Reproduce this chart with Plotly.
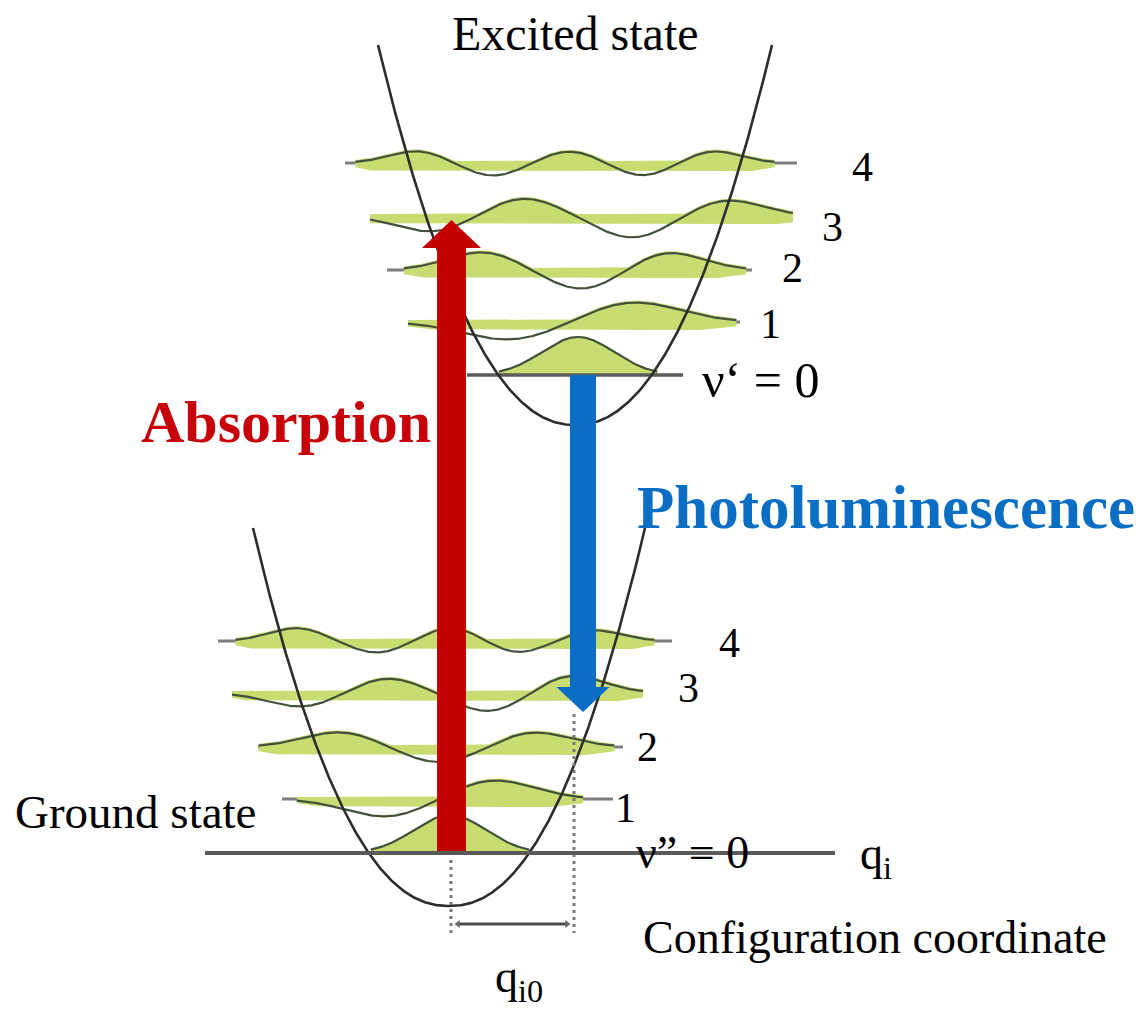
import numpy as np
import plotly.graph_objects as go

W, H = 1147, 1009

# ---------------- data (pixel space) ----------------
# potential curves: excited, ground
curve_vx = [575, 449]
curve_vy = [425, 906]
curve_halfw = [197, 196]
curve_height = [380, 378]
curve_exp = [2.15, 2.2]

# excited-state vibrational levels v' = 0..4
up_level_y = [375, 322, 270, 216, 163]
up_line_x0 = [467, 408, 387, 370, 345]
up_line_x1 = [683, 740, 752, 793, 797]
up_lobe_x = [[578], [510, 633], [483, 583, 667], [433, 523, 633, 727], [417, 493, 570, 643, 713]]
up_lobe_a = [[38], [-18, 20], [18, -20, 18], [-16, 18, -22, 16], [12, -13, 12, -13, 12]]
up_lobe_w = [36, 47, 36, 36, 28]
up_labels = ["ν‘ = 0", "1", "2", "3", "4"]

# ground-state vibrational levels v'' = 0..4
lo_level_y = [853, 799, 747, 693, 641]
lo_line_x0 = [205, 282, 258, 232, 218]
lo_line_x1 = [835, 613, 623, 643, 672]
lo_lobe_x = [[450], [387, 493], [340, 440, 533], [303, 387, 490, 570], [297, 377, 452, 517, 593]]
lo_lobe_a = [[38], [-18, 19], [15, -16, 15], [-14, 15, -19, 18], [13, -12, 14, -12, 11]]
lo_lobe_w = [36, 41, 37, 34, 28]
lo_labels = ["ν” = 0", "1", "2", "3", "4"]

band_thick = [0, 10, 10, 10, 10]

# transitions: x centre, start y, tip y
arrow_names = ["Absorption", "Photoluminescence"]
arrow_cx = [451.5, 583]
arrow_y_start = [853, 375]
arrow_y_tip = [220, 712]
arrow_shaft_w = [29, 26]
arrow_head_w = [59, 53]
arrow_head_len = [28, 25]
arrow_color = ["#c40000", "#0a6fc4"]

# displacement q_i0
disp_x = [451, 574]
disp_y_top = [860, 714]
disp_y_bottom = [933, 933]
disp_arrow_y = 924

GREEN = "#c9dc72"
WAVE = "#43503a"
LEVEL = "#7d7d7d"
CURVE = "#2c2c2c"

fig = go.Figure()


def wave(xs, cs, amps, sig):
    w = np.zeros_like(xs)
    env = np.zeros_like(xs)
    for c, a in zip(cs, amps):
        g = np.exp(-(xs - c) ** 2 / (2 * sig ** 2))
        w += a * g
        env = np.maximum(env, g)
    return w, env


def add_levels(ys, x0s, x1s, lxs, las, sigs):
    for n in range(len(ys)):
        if n == 0:
            continue
        fig.add_trace(go.Scatter(x=[x0s[n], x1s[n]], y=[ys[n], ys[n]], mode="lines",
                                 line=dict(color=LEVEL, width=3), hoverinfo="skip"))
    for n in range(len(ys)):
        sig = sigs[n]
        a = max(x0s[n], min(lxs[n]) - 2.2 * sig)
        b = min(x1s[n], max(lxs[n]) + 2.2 * sig)
        xs = np.linspace(a, b, 400)
        w, env = wave(xs, lxs[n], las[n], sig)
        t = band_thick[n] * np.clip(env / 0.3, 0, 1) ** 0.5
        top = ys[n] - np.maximum(w, 0) - np.where(t > 0, 2, 0)
        bot = ys[n] + t * 0.8
        px = np.concatenate([xs, xs[::-1]])
        py = np.concatenate([top, bot[::-1]])
        fig.add_trace(go.Scatter(x=px, y=py, mode="lines", fill="toself", fillcolor=GREEN,
                                 line=dict(width=0), hoverinfo="skip"))
        fig.add_trace(go.Scatter(x=xs, y=ys[n] - w, mode="lines",
                                 line=dict(color=WAVE, width=2.2), hoverinfo="skip"))
    fig.add_trace(go.Scatter(x=[x0s[0], x1s[0]], y=[ys[0], ys[0]], mode="lines",
                             line=dict(color="#5a5a5a", width=3.5), hoverinfo="skip"))


add_levels(up_level_y, up_line_x0, up_line_x1, up_lobe_x, up_lobe_a, up_lobe_w)
add_levels(lo_level_y, lo_line_x0, lo_line_x1, lo_lobe_x, lo_lobe_a, lo_lobe_w)

# potential curves
for i in range(2):
    xs = np.linspace(curve_vx[i] - curve_halfw[i], curve_vx[i] + curve_halfw[i], 400)
    ys = curve_vy[i] - curve_height[i] * (np.abs(xs - curve_vx[i]) / curve_halfw[i]) ** curve_exp[i]
    fig.add_trace(go.Scatter(x=xs, y=ys, mode="lines", line=dict(color=CURVE, width=2.6),
                             hoverinfo="skip"))

# displacement dotted lines and arrow
for i in range(2):
    fig.add_trace(go.Scatter(x=[disp_x[i], disp_x[i]], y=[disp_y_top[i], disp_y_bottom[i]],
                             mode="lines", line=dict(color="#7a7a7a", width=3, dash="3px,4px"),
                             hoverinfo="skip"))
fig.add_trace(go.Scatter(x=[disp_x[0] + 7, disp_x[1] - 7], y=[disp_arrow_y, disp_arrow_y],
                         mode="lines+markers", line=dict(color="#4a4a4a", width=3),
                         marker=dict(symbol=["triangle-left", "triangle-right"], size=7,
                                     color="#6a6a6a"), hoverinfo="skip"))

# transition arrows
for i in range(2):
    cx, ys, yt = arrow_cx[i], arrow_y_start[i], arrow_y_tip[i]
    sgn = 1 if yt > ys else -1
    yb = yt - sgn * arrow_head_len[i]
    sw, hw = arrow_shaft_w[i] / 2, arrow_head_w[i] / 2
    px = [cx - sw, cx + sw, cx + sw, cx + hw, cx, cx - hw, cx - sw, cx - sw]
    py = [ys, ys, yb, yb, yt, yb, yb, ys]
    fig.add_trace(go.Scatter(x=px, y=py, mode="lines", fill="toself", fillcolor=arrow_color[i],
                             line=dict(width=0, color=arrow_color[i]), hoverinfo="skip"))

# v''=0 axis line on top
fig.add_trace(go.Scatter(x=[lo_line_x0[0], lo_line_x1[0]], y=[lo_level_y[0], lo_level_y[0]],
                         mode="lines", line=dict(color="#5a5a5a", width=4), hoverinfo="skip"))

SERIF = "Liberation Serif, Times New Roman, DejaVu Serif, serif"
ann = []


def txt(x, y, s, size, color="black", bold=False, xanchor="center"):
    if bold:
        s = "<b>" + s + "</b>"
    ann.append(dict(x=x, y=y, xref="x", yref="y", text=s, showarrow=False, xanchor=xanchor,
                    yanchor="middle", font=dict(family=SERIF, size=size, color=color)))


txt(575, 33, "Excited state", 48)
txt(286, 422, "Absorption", 60, color="#c8000a", bold=True)
txt(886, 507, "Photoluminescence", 61, color="#0a6fc4", bold=True)
txt(135, 812, "Ground state", 47)
txt(875, 937, "Configuration coordinate", 46)
txt(876, 857, "q<sub>i</sub>", 46)
txt(519, 980, "q<sub>i0</sub>", 46)

up_label_x = [772, 770, 792, 832, 862]
up_label_y = [380, 324, 268, 227, 167]
lo_label_x = [694, 625, 647, 688, 729]
lo_label_y = [852, 808, 747, 688, 643]
for n in range(5):
    if n == 0:
        txt(up_label_x[n] - 72, up_label_y[n], up_labels[n], 50, xanchor="left")
        txt(lo_label_x[n] - 60, lo_label_y[n], lo_labels[n], 46, xanchor="left")
    else:
        txt(up_label_x[n], up_label_y[n], up_labels[n], 42)
        txt(lo_label_x[n], lo_label_y[n], lo_labels[n], 42)

fig.update_layout(
    width=W, height=H, margin=dict(l=0, r=0, t=0, b=0),
    paper_bgcolor="white", plot_bgcolor="white", showlegend=False,
    xaxis=dict(range=[0, W], visible=False, fixedrange=True),
    yaxis=dict(range=[H, 0], visible=False, fixedrange=True),
    annotations=ann,
)

fig.write_html("out.html", config={"displayModeBar": False})
